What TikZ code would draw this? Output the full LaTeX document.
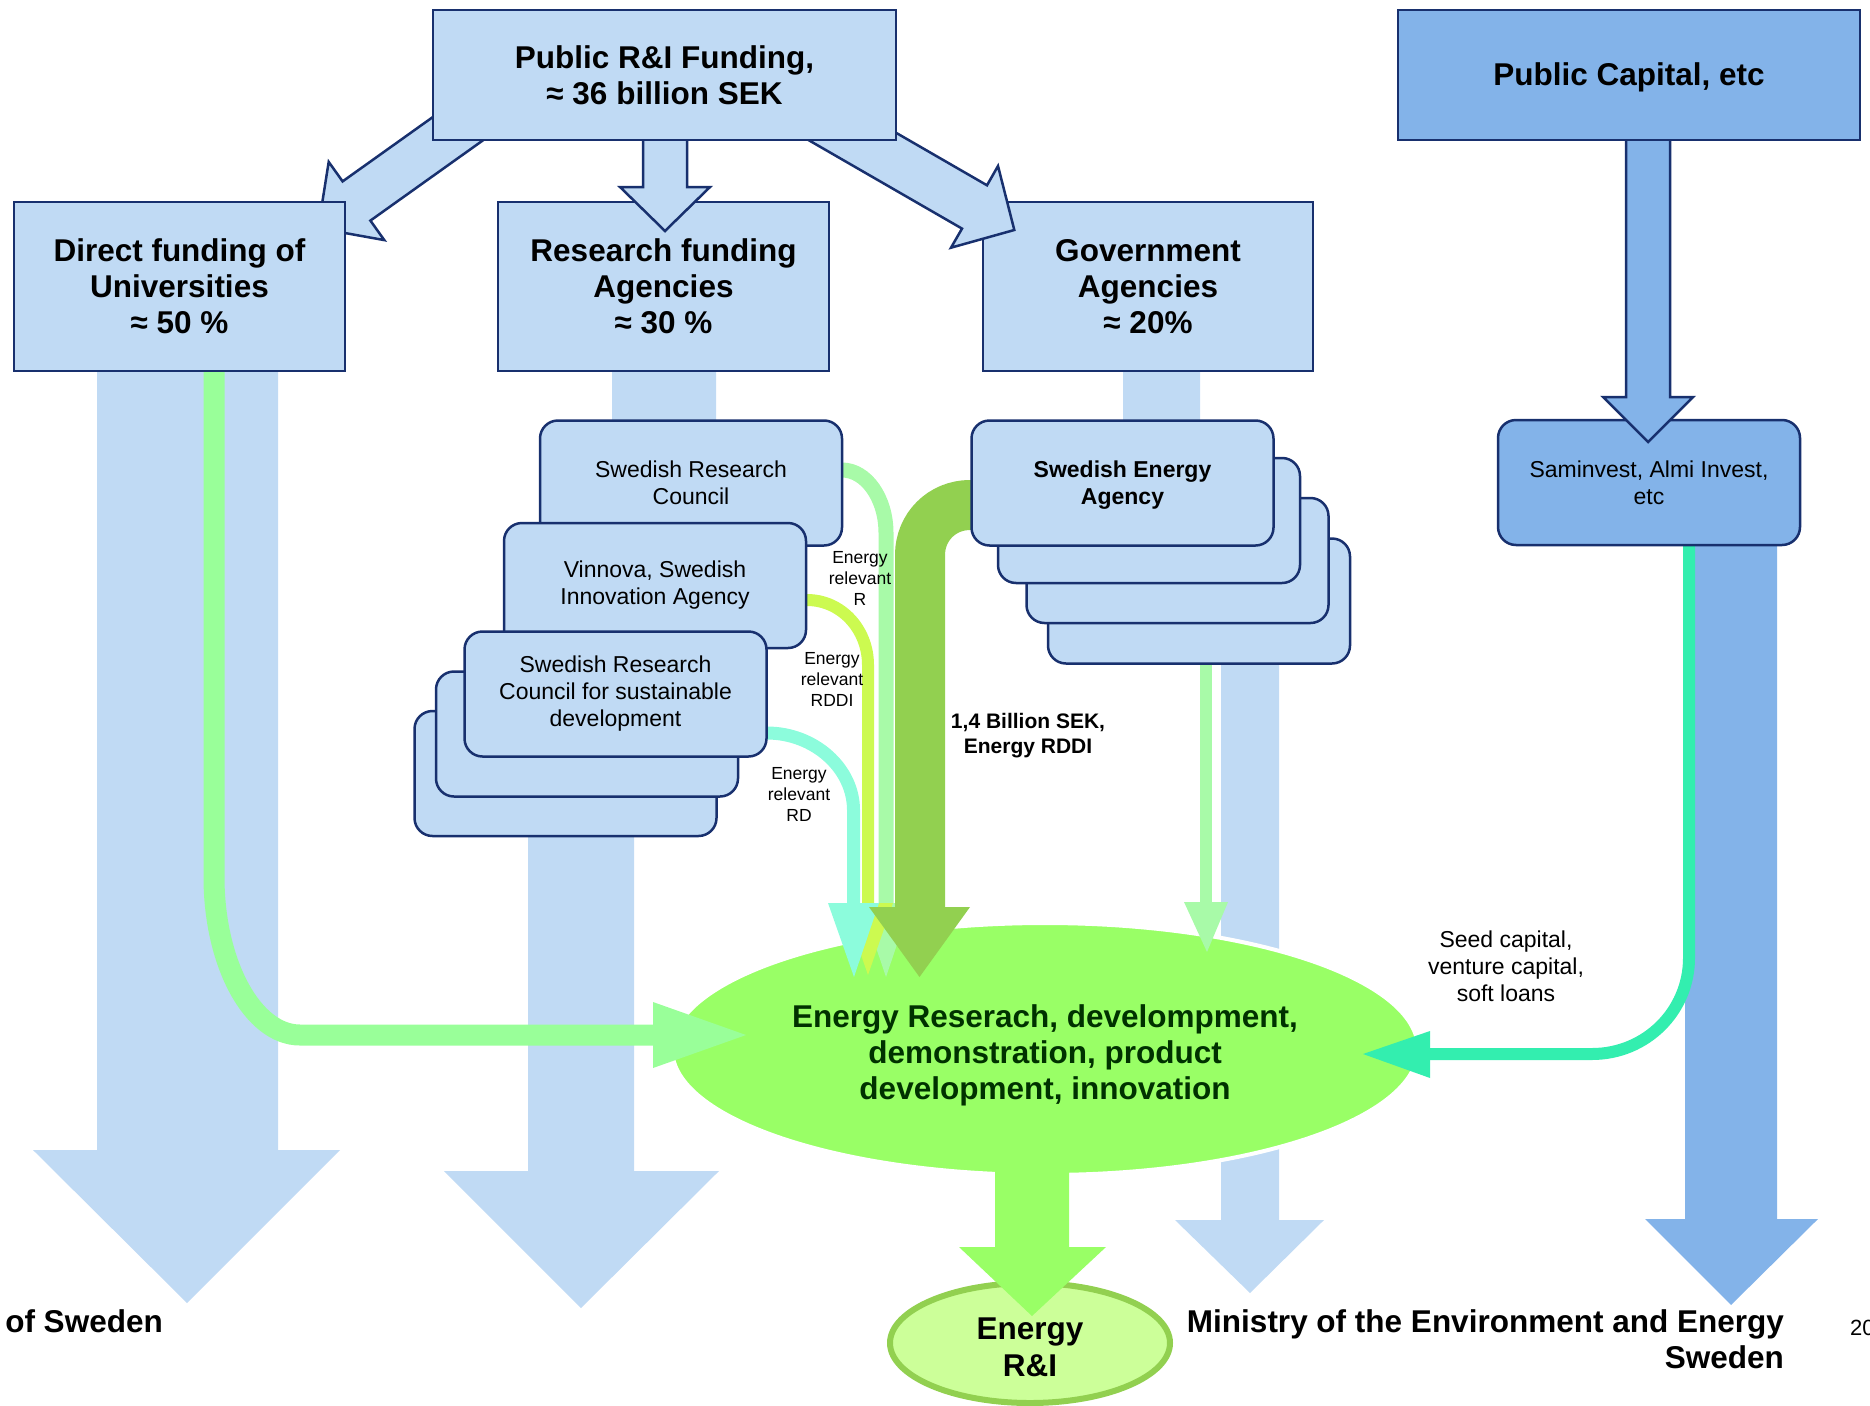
\documentclass[tikz,border=0pt]{standalone}
\usepackage{fontspec}
\setmainfont{Liberation Sans}
\usetikzlibrary{shapes.geometric}
\definecolor{lblue}{RGB}{192,218,244}
\definecolor{mblue}{RGB}{131,179,233}
\definecolor{navy}{RGB}{24,48,110}
\definecolor{egreen}{RGB}{153,255,102}
\definecolor{dgreen}{RGB}{146,208,80}
\definecolor{lgreen}{RGB}{153,255,153}
\definecolor{pgreen}{RGB}{168,250,168}
\definecolor{ygreen}{RGB}{204,250,80}
\definecolor{aqua}{RGB}{140,252,220}
\definecolor{seed}{RGB}{51,238,175}
\definecolor{rifill}{RGB}{204,255,153}
\definecolor{ristroke}{RGB}{146,208,80}
\definecolor{tgreen}{RGB}{0,50,0}
\newcommand\myBig{\fontsize{31.5}{36}\selectfont\bfseries}
\newcommand\myCard{\fontsize{23}{27}\selectfont}
\newcommand\mySmall{\fontsize{17.5}{21}\selectfont}
\newcommand\myMid{\fontsize{21}{25}\selectfont\bfseries}
\begin{document}
\begin{tikzpicture}[x=1pt,y=-1pt,line join=miter,
  box/.style={draw=navy,line width=2.5pt,fill=lblue,inner sep=0pt,align=center,font=\myBig},
  card/.style={draw=navy,line width=2.5pt,fill=lblue,rounded corners=18pt,inner sep=0pt,
     minimum width=302pt,minimum height=125pt,align=center,font=\myCard},
  blockarrow/.style={draw=navy,line width=2.5pt,fill=lblue},
  lbl/.style={inner sep=0pt,align=center,font=\mySmall},
  flow/.style={line width=#1,line cap=butt}]
\useasboundingbox (0,0) rectangle (1870,1405);

% ---------- big background arrows ----------
\fill[lblue] (97,371) -- (278,371) -- (278,1150) -- (340,1150) -- (187,1303) -- (33,1150) -- (97,1150) -- cycle;
\fill[lblue] (612,371) -- (716,371) -- (716,450) -- (634,600) -- (634,1171) -- (719,1171) -- (581,1308)
   -- (444,1171) -- (528,1171) -- (528,600) -- (612,430) -- cycle;
\fill[lblue] (1123,371) -- (1200,371) -- (1200,480) -- (1279,560) -- (1279,1220) -- (1324,1220) -- (1250,1293)
   -- (1175,1220) -- (1221,1220) -- (1221,580) -- (1123,480) -- cycle;
\fill[mblue] (1685,545) -- (1777,545) -- (1777,1219) -- (1818,1219) -- (1731,1305) -- (1645,1219) -- (1685,1219) -- cycle;

% ---------- ellipses ----------
\node[ellipse,draw=ristroke,line width=6pt,fill=rifill,minimum width=280pt,minimum height=120pt,
   inner sep=0pt] (eri) at (1030,1343) {};
\node[inner sep=0pt,align=center,font=\fontsize{31.5}{37}\selectfont\bfseries] (eritxt) at (1030,1347) {Energy\\R\&I};
\node[ellipse,draw=white,line width=4pt,fill=egreen,minimum width=746pt,minimum height=252pt,
   inner sep=0pt] (erd) at (1045,1049) {};
\node[inner sep=0pt,align=center,font=\myBig,text=tgreen] (erdtxt) at (1045,1055)
   {Energy Reserach, develompment,\\demonstration, product\\development, innovation};
\coordinate (eriTip) at (1032,1316);
\fill[egreen] (995,1150) -- (1069,1150) -- (1069,1247) -- (1106,1247) -- (eriTip) -- (959,1247) -- (995,1247) -- cycle;

% ---------- coloured flows ----------
\coordinate (dirS) at (214,371);
\coordinate (dirT) at (746,1035);
\draw[lgreen,flow=21pt] (dirS) -- (214,877) .. controls (214,964) and (253,1035) .. (300,1035) -- (655,1035);
\fill[lgreen] (653,1002) -- (dirT) -- (653,1068) -- cycle;

\coordinate (srcR) at (830,470);
\draw[pgreen,flow=15pt] (srcR) -- (842,470) .. controls (866,470) and (886,498) .. (886,533) -- (886,905);
\fill[pgreen] (861,903) -- (911,903) -- (886,977) -- cycle;

\coordinate (vinR) at (795,600);
\draw[ygreen,flow=12pt] (vinR) -- (807,600) .. controls (841,600) and (868,629) .. (868,665) -- (868,905);
\fill[ygreen] (843,903) -- (893,903) -- (868,975) -- cycle;

\coordinate (sdR) at (755,733);
\draw[aqua,flow=13pt] (sdR) -- (767,733) .. controls (814,733) and (853.5,768) .. (853.5,810) -- (853.5,905);
\fill[aqua] (828,903) -- (879,903) -- (854,977) -- cycle;

\coordinate (eaL) at (990,505);
\draw[dgreen,flow=50pt] (eaL) -- (970,505) .. controls (942,505) and (920,527) .. (920,555) -- (920,909);
\fill[dgreen] (869,907) -- (970,907) -- (919.5,977) -- cycle;

\coordinate (eaB) at (1206,650);
\draw[pgreen,flow=12pt] (eaB) -- (1206,904);
\fill[pgreen] (1184,902) -- (1228,902) -- (1207,952) -- cycle;

\coordinate (samB) at (1689,540);
\draw[seed,flow=12pt] (samB) -- (1689,958) .. controls (1689,1011) and (1646,1054) .. (1592,1054) -- (1428,1054);
\fill[seed] (1430,1031) -- (1430,1078) -- (1363,1054) -- cycle;

% ---------- labels ----------
\node[lbl] (lR) at (860,578) {Energy\\relevant\\R};
\node[lbl] (lRDDI) at (832,679) {Energy\\relevant\\RDDI};
\node[lbl] (lRD) at (799,794) {Energy\\relevant\\RD};
\node[inner sep=0pt,align=center,font=\myMid] (lbil) at (1028,736) {1,4 Billion SEK,\\Energy RDDI};
\node[inner sep=0pt,align=center,font=\myCard] (lseed) at (1506,966) {Seed capital,\\venture capital,\\soft loans};

% ---------- research agency cards ----------
\node[card] (src) at (691,483) {Swedish Research\\Council};
\node[card] (vin) at (655,585.5) {Vinnova, Swedish\\Innovation Agency};
\node[card] (b2) at (565.5,773.5) {};
\node[card] (b1) at (587,734) {};
\node[card] (srcsd) at (615.5,694) {Swedish Research\\Council for sustainable\\development};

% ---------- energy agency cards ----------
\node[card] (c4) at (1199,601) {};
\node[card] (c3) at (1177.5,560.5) {};
\node[card] (c2) at (1149,520.5) {};
\node[card] (sea) at (1122.5,483) {};
\node[inner sep=0pt,align=center,font=\myCard\bfseries] (seatxt) at (1122.5,485) {Swedish Energy\\Agency};

\node[card,fill=mblue] (sam) at (1649,482.5) {Saminvest, Almi Invest,\\etc};

% ---------- top level ----------
\draw[blockarrow] (464.6,94.4) -- (342.6,181.4) -- (328.7,161.9) -- (318.2,228.2) -- (384.3,240.1) -- (370.4,220.6) -- (492.4,133.6) -- cycle;
\node[box,minimum width=331pt,minimum height=169pt] (direct) at (179.5,286.5) {Direct funding of\\Universities\\≈ 50 \%};
\node[box,minimum width=331pt,minimum height=169pt] (rfa) at (663.5,286.5) {Research funding\\Agencies\\≈ 30 \%};
\node[box,minimum width=330pt,minimum height=169pt] (gov) at (1148,286.5) {Government\\Agencies\\≈ 20\%};
\draw[blockarrow] (643,130) -- (643,187) -- (620,187) -- (665,231) -- (710,187) -- (687,187) -- (687,130) -- cycle;
\draw[blockarrow] (813.8,85.3) -- (987,185.3) -- (998,166) -- (1014.3,230) -- (951,247.7) -- (962,228.6) -- (788.8,128.7) -- cycle;
\node[box,minimum width=463pt,minimum height=130pt] (top) at (664.5,75) {Public R\&I Funding,\\≈ 36 billion SEK};

\draw[blockarrow,fill=mblue] (1626,130) -- (1626,397) -- (1603,397) -- (1648,442) -- (1693,397) -- (1670,397) -- (1670,130) -- cycle;
\node[box,fill=mblue,minimum width=462pt,minimum height=130pt] (pub) at (1629,75) {};
\node[inner sep=0pt,font=\myBig] (pubtxt) at (pub.center) [yshift=-2pt] {Public Capital, etc};

% ---------- bottom texts ----------
\node[inner sep=0pt,align=right,font=\myBig,anchor=east] (min) at (1784,1339) {Ministry of the Environment and Energy\\Sweden};
\node[inner sep=0pt,font=\myBig,anchor=east] (ofs) at (163,1321) {of Sweden};
\node[inner sep=0pt,font=\fontsize{22}{26}\selectfont,anchor=west] (pg) at (1850,1328) {20};
\end{tikzpicture}
\end{document}
